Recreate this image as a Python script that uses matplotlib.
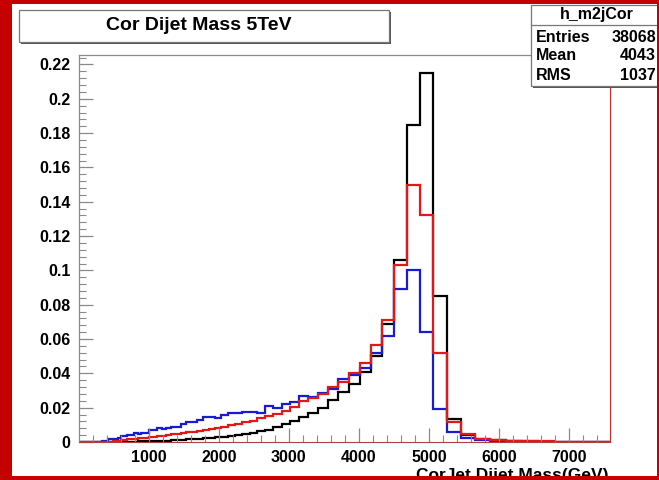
import numpy as np
import matplotlib.pyplot as plt
from matplotlib.patches import Rectangle
from matplotlib.ticker import MultipleLocator, FuncFormatter

# dijet mass bin edges (GeV)
mass_edges = [1, 3, 6, 10, 16, 23, 31, 40, 50, 61, 74, 88, 103, 119, 137, 156, 176, 197,
              220, 244, 270, 296, 325, 354, 386, 419, 453, 489, 526, 565, 606, 649, 693,
              740, 788, 838, 890, 944, 1000, 1058, 1118, 1181, 1246, 1313, 1383, 1455,
              1530, 1607, 1687, 1770, 1856, 1945, 2037, 2132, 2231, 2332, 2438, 2546,
              2659, 2775, 2895, 3019, 3147, 3279, 3416, 3558, 3704, 3854, 4010, 4171,
              4337, 4509, 4686, 4869, 5058, 5253, 5455, 5663, 5877, 6099, 6328, 6564,
              6808, 7060, 7320, 7589]

# normalised contents; the lowest bins are empty
m2j_black = [0] * 31 + [
    0.0001, 0.0001, 0.0002, 0.0002, 0.0003, 0.0003, 0.0004, 0.0004, 0.0005, 0.0005,
    0.0006, 0.0008, 0.0010, 0.0012, 0.0014, 0.0016, 0.0018, 0.0020, 0.0022, 0.0025,
    0.0028, 0.0032, 0.0037, 0.0042, 0.0048, 0.0054, 0.0062, 0.0072, 0.0085, 0.0105,
    0.0125, 0.0148, 0.0170, 0.0200, 0.0245, 0.0290, 0.0340, 0.0410, 0.0500, 0.0690,
    0.1060, 0.1850,
    0.2150, 0.0850, 0.0135, 0.0040, 0.0018, 0.0010, 0.0005, 0.0003, 0.0002, 0.0001,
    0.0001, 0.0001]
m2j_red = [0] * 22 + [
    0.0001, 0.0001, 0.0002, 0.0002, 0.0002,
    0.0003, 0.0005, 0.0007, 0.0010, 0.0013, 0.0016, 0.0018, 0.0020, 0.0022, 0.0024,
    0.0026, 0.0028, 0.0031, 0.0034, 0.0037, 0.0041, 0.0045, 0.0049, 0.0052, 0.0056,
    0.0060, 0.0064, 0.0069, 0.0076, 0.0082, 0.0090, 0.0098, 0.0106, 0.0115, 0.0125,
    0.0138, 0.0150, 0.0165, 0.0182, 0.0205, 0.0238, 0.0258, 0.0278, 0.0320, 0.0350,
    0.0400, 0.0460, 0.0565, 0.0710, 0.1030, 0.1500,
    0.1320, 0.0520, 0.0115, 0.0045, 0.0020, 0.0012, 0.0006, 0.0004, 0.0003, 0.0002,
    0.0002, 0.0001]
m2j_blue = [0] * 22 + [
    0.0003, 0.0005, 0.0008, 0.0015, 0.0018, 0.0020, 0.0020, 0.0022, 0.0033, 0.0035,
    0.0038, 0.0040, 0.0052, 0.0048, 0.0050, 0.0052, 0.0070, 0.0068, 0.0080, 0.0078,
    0.0082, 0.0090, 0.0088, 0.0103, 0.0115, 0.0118, 0.0128, 0.0148, 0.0145, 0.0138,
    0.0157, 0.0167, 0.0170, 0.0177, 0.0177, 0.0167, 0.0212, 0.0200, 0.0220, 0.0235,
    0.0270, 0.0264, 0.0285, 0.0310, 0.0368, 0.0390, 0.0430, 0.0520, 0.0620, 0.0890,
    0.1000,
    0.0640, 0.0190, 0.0060, 0.0025, 0.0010, 0.0006, 0.0003, 0.0002, 0.0001, 0.0001,
    0.0001, 0]

stat_names = ['Entries', 'Mean', 'RMS']
stat_values = ['38068', '4043', '1037']

W, H = 659, 480
plt.rcParams['font.family'] = ['Liberation Sans', 'DejaVu Sans']
plt.rcParams['font.weight'] = 'bold'

fig = plt.figure(figsize=(W / 100, H / 100), dpi=100)
fig.patch.set_facecolor('white')

def fx(px):
    return px / W

def fy(py):
    return 1 - py / H

ax = fig.add_axes([fx(79), fy(442), fx(610) - fx(79), fy(54.6) - fy(442)])

ax.stairs(m2j_black, mass_edges, color='black', lw=1.6)
ax.stairs(m2j_blue, mass_edges, color='#1a1ad0', lw=1.6)
ax.stairs(m2j_red, mass_edges, color='#e01818', lw=1.6)

ax.set_xlim(mass_edges[0], mass_edges[-1])
ax.set_ylim(0, 1.05 * max(m2j_black))

frame_col = '#8a8a8a'
for side in ['left', 'top']:
    ax.spines[side].set_color(frame_col)
    ax.spines[side].set_linewidth(0.9)
ax.spines['right'].set_color('#c83030')
ax.spines['bottom'].set_color('#b04040')

ax.xaxis.set_major_locator(MultipleLocator(1000))
ax.xaxis.set_minor_locator(MultipleLocator(200))
ax.yaxis.set_major_locator(MultipleLocator(0.02))
ax.yaxis.set_minor_locator(MultipleLocator(0.004))
ax.yaxis.set_major_formatter(FuncFormatter(lambda v, p: '%g' % round(v, 3)))
ax.xaxis.set_major_formatter(FuncFormatter(lambda v, p: '' if v < 500 else '%d' % v))

ax.tick_params(which='both', direction='in', color=frame_col, top=False, right=False,
               labelsize=11.5)
ax.tick_params(which='major', length=10, width=0.9)
ax.tick_params(which='minor', length=5, width=0.8)
ax.tick_params(axis='y', pad=6)
ax.tick_params(axis='x', pad=6)

# x axis title, right aligned to the frame (bottom of it runs under the border)
fig.text(fx(608), fy(480), 'CorJet Dijet Mass(GeV)', ha='right', va='baseline',
         fontsize=12.5, fontweight='bold')

# title pave with shadow
fig.add_artist(Rectangle((fx(21), fy(44)), fx(370), fy(10) - fy(42),
                         transform=fig.transFigure, facecolor='#555555', edgecolor='none',
                         zorder=4))
fig.add_artist(Rectangle((fx(19), fy(42)), fx(370), fy(10) - fy(42),
                         transform=fig.transFigure, facecolor='white', edgecolor='#777777',
                         lw=0.9, zorder=5))
fig.text(fx(199), fy(26), 'Cor Dijet Mass 5TeV', ha='center', va='center',
         fontsize=14, fontweight='bold', zorder=6)

# statistics box
fig.add_artist(Rectangle((fx(533), fy(88)), fx(140), fy(5) - fy(86),
                         transform=fig.transFigure, facecolor='#555555', edgecolor='none',
                         zorder=4))
fig.add_artist(Rectangle((fx(531), fy(86)), fx(140), fy(5) - fy(86),
                         transform=fig.transFigure, facecolor='white', edgecolor='#777777',
                         lw=0.9, zorder=5))
fig.add_artist(plt.Line2D([fx(531), 1], [fy(25), fy(25)], transform=fig.transFigure,
                          color='#777777', lw=0.9, zorder=6))
fig.text(fx(597), fy(15), 'h_m2jCor', ha='center', va='center', fontsize=11.5,
         fontweight='bold', zorder=7)
for i, (name, val) in enumerate(zip(stat_names, stat_values)):
    yy = fy(37 + i * 19)
    fig.text(fx(536), yy, name, ha='left', va='center', fontsize=11.5,
             fontweight='bold', zorder=7)
    fig.text(fx(656), yy, val, ha='right', va='center', fontsize=11.5,
             fontweight='bold', zorder=7)

# dark red border round the canvas
border = '#c40000'
for (x0, y0, w, h) in [(0, 0, 12, H), (0, 0, W, 4), (0, H - 4, W, 4), (W - 2, 0, 2, H)]:
    fig.add_artist(Rectangle((fx(x0), fy(y0 + h)), fx(w), fy(y0) - fy(y0 + h),
                             transform=fig.transFigure, facecolor=border,
                             edgecolor='none', zorder=20))

fig.savefig('out.png', dpi=100)
